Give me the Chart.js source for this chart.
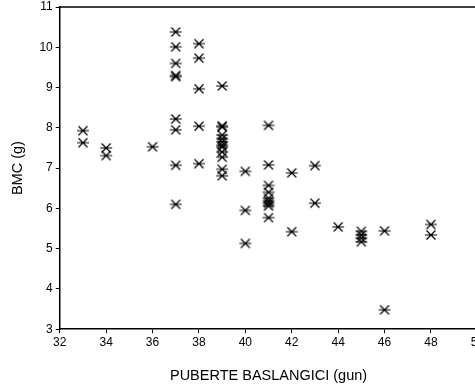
<!DOCTYPE html>
<html>
<head>
<meta charset="utf-8">
<script src="https://cdn.jsdelivr.net/npm/chart.js@4"></script>
<style>
  html, body { margin: 0; padding: 0; background: #fff; overflow: hidden; }
  #wrap { width: 475px; height: 389px; overflow: hidden; }
</style>
</head>
<body>
<div id="wrap"><canvas id="myChart" width="486" height="389"></canvas></div>
<script>
// puberty start (days) and BMC (g), one entry per animal
const pubertyStart = [
  33, 33,
  34, 34,
  36,
  37, 37, 37, 37, 37, 37, 37, 37, 37,
  38, 38, 38, 38, 38,
  39, 39, 39, 39, 39, 39, 39, 39, 39, 39, 39, 39,
  40, 40, 40,
  41, 41, 41, 41, 41, 41, 41, 41, 41,
  42, 42,
  43, 43,
  44,
  45, 45, 45, 45,
  46, 46,
  48, 48
];
const bmcValues = [
  7.93, 7.63,
  7.50, 7.31,
  7.53,
  10.38, 10.01, 9.60, 9.30, 9.27, 8.22, 7.95, 7.07, 6.10,
  10.09, 9.73, 8.97, 8.04, 7.11,
  9.04, 8.05, 8.02, 7.82, 7.73, 7.65, 7.57, 7.52, 7.40, 7.27, 6.97, 6.81,
  6.92, 5.95, 5.13,
  8.06, 7.08, 6.57, 6.40, 6.25, 6.18, 6.12, 6.06, 5.77,
  6.88, 5.42,
  7.06, 6.13,
  5.54,
  5.43, 5.34, 5.26, 5.17,
  5.44, 3.48,
  5.60, 5.34
];
const xTickRange = { min: 32, max: 50, step: 2 };
const yTickRange = { min: 3, max: 11, step: 1 };

// asterisk marker: horizontal bar plus an X
function makeStar() {
  const c = document.createElement('canvas');
  c.width = 14; c.height = 12;
  const g = c.getContext('2d');
  g.strokeStyle = '#000';
  g.lineWidth = 1.2;
  g.beginPath();
  g.moveTo(1, 6); g.lineTo(13, 6);
  g.moveTo(2.5, 1.5); g.lineTo(11.5, 10.5);
  g.moveTo(11.5, 1.5); g.lineTo(2.5, 10.5);
  g.stroke();
  return c;
}

const topLine = {
  id: 'topLine',
  afterDraw(chart) {
    const a = chart.chartArea, ctx = chart.ctx;
    ctx.save();
    ctx.strokeStyle = '#000';
    ctx.lineWidth = 1.5;
    ctx.beginPath();
    ctx.moveTo(a.left, a.top);
    ctx.lineTo(a.right, a.top);
    ctx.stroke();
    ctx.restore();
  }
};

const points = pubertyStart.map((x, i) => ({ x: x, y: bmcValues[i] }));
const tickFont = { family: 'Liberation Sans, Arial, sans-serif', size: 12 };
const titleFont = { family: 'Liberation Sans, Arial, sans-serif', size: 14.5 };

new Chart(document.getElementById('myChart').getContext('2d'), {
  type: 'scatter',
  data: {
    datasets: [{
      data: points,
      pointStyle: makeStar(),
      pointRadius: 6
    }]
  },
  plugins: [topLine],
  options: {
    responsive: false,
    animation: false,
    layout: { padding: { top: 7, left: 9, right: 0, bottom: 4 } },
    plugins: { legend: { display: false }, tooltip: { enabled: false } },
    scales: {
      x: {
        type: 'linear',
        min: xTickRange.min, max: xTickRange.max,
        ticks: { stepSize: xTickRange.step, color: '#000', font: tickFont, padding: 2, maxRotation: 0 },
        grid: { drawOnChartArea: false, drawTicks: true, tickLength: 4, color: '#000' },
        border: { color: '#000', width: 1.5 },
        title: { display: true, text: 'PUBERTE BASLANGICI (gun)', color: '#000', font: titleFont, padding: { top: 16, bottom: 0 } }
      },
      y: {
        min: yTickRange.min, max: yTickRange.max,
        afterFit(scale) { scale.paddingTop = 0; },
        ticks: { stepSize: yTickRange.step, color: '#000', font: tickFont, padding: 3 },
        grid: { drawOnChartArea: false, drawTicks: true, tickLength: 4, color: '#000' },
        border: { color: '#000', width: 1.5 },
        title: { display: true, text: 'BMC (g)', color: '#000', font: titleFont, padding: { top: 0, bottom: 10 } }
      }
    }
  }
});
</script>
</body>
</html>
